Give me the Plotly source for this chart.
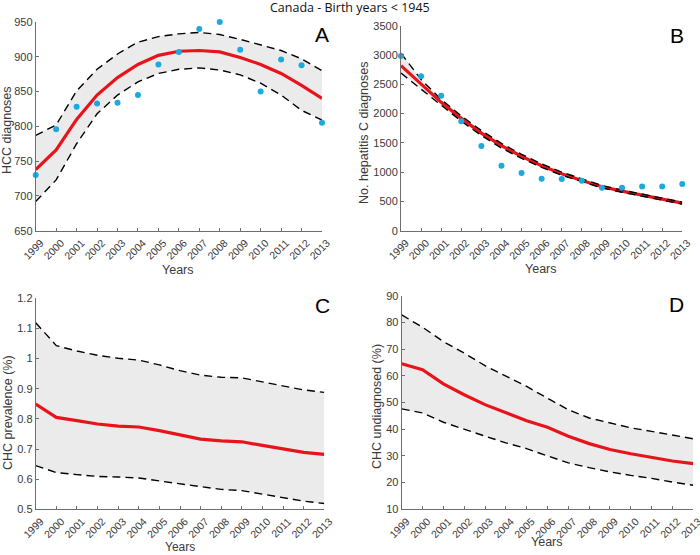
import plotly.graph_objects as go

years = list(range(1999, 2014))
year_labels = [str(y) for y in years]

# Panel A - HCC diagnoses
A_obs = [730, 796, 828, 833, 834, 845, 889, 907, 940, 950, 910, 850, 896, 888, 805]
A_mid = [738, 766, 810, 845, 870, 889, 902, 908, 909, 907, 899, 889, 876, 859, 840]
A_up = [787, 802, 851, 882, 904, 921, 929, 933, 935, 932, 925, 917, 909, 897, 880]
A_lo = [692, 723, 775, 818, 845, 864, 876, 882, 884, 881, 874, 862, 845, 823, 809]

# Panel B - No. hepatitis C diagnoses
B_obs = [2982, 2635, 2305, 1867, 1445, 1110, 985, 888, 882, 854, 734, 734, 755, 755, 797]
B_mid = [2817, 2504, 2191, 1918, 1667, 1451, 1269, 1110, 973, 858, 750, 675, 605, 545, 470]
B_up = [3030, 2580, 2240, 1960, 1710, 1490, 1305, 1140, 1000, 880, 772, 693, 622, 562, 487]
B_lo = [2690, 2420, 2135, 1870, 1625, 1412, 1235, 1080, 947, 836, 730, 657, 588, 528, 455]

# Panel C - CHC prevalence (%)
C_mid = [0.849, 0.805, 0.794, 0.783, 0.776, 0.773, 0.761, 0.747, 0.733, 0.727, 0.724, 0.712, 0.701, 0.689, 0.682]
C_up = [1.119, 1.043, 1.025, 1.011, 1.001, 0.995, 0.979, 0.960, 0.945, 0.938, 0.936, 0.922, 0.909, 0.896, 0.888]
C_lo = [0.645, 0.622, 0.615, 0.609, 0.607, 0.604, 0.594, 0.584, 0.574, 0.566, 0.562, 0.550, 0.539, 0.527, 0.519]

# Panel D - CHC undiagnosed (%)
D_mid = [64.5, 62.3, 57.0, 52.9, 49.2, 46.1, 43.2, 40.7, 37.4, 34.6, 32.4, 30.8, 29.3, 28.1, 27.1]
D_up = [82.8, 78.2, 72.8, 68.5, 63.8, 60.0, 56.0, 51.6, 47.3, 44.2, 42.4, 40.5, 39.2, 37.8, 36.4]
D_lo = [47.6, 46.1, 42.6, 39.9, 37.4, 34.9, 32.7, 30.0, 27.4, 25.6, 24.0, 22.7, 21.6, 20.2, 19.0]

W, H = 700, 555
def px(x): return x / W
def py(y): return 1 - y / H

RED = "#E8141B"
BAND = "#EBEBEB"
BLUE = "#1BA9E0"
AX = "#6e6e6e"
TXT = "#3a3a3a"
FONT = "Liberation Sans, Arial, sans-serif"

fig = go.Figure()

panels = [
    dict(n="", mid=A_mid, up=A_up, lo=A_lo, obs=A_obs),
    dict(n="2", mid=B_mid, up=B_up, lo=B_lo, obs=B_obs),
    dict(n="3", mid=C_mid, up=C_up, lo=C_lo, obs=None),
    dict(n="4", mid=D_mid, up=D_up, lo=D_lo, obs=None),
]

for p in panels:
    xa, ya = "x" + p["n"], "y" + p["n"]
    fig.add_trace(go.Scatter(x=years, y=p["lo"], xaxis=xa, yaxis=ya, mode="lines",
                             line=dict(width=0, color=BAND), hoverinfo="skip", showlegend=False))
    fig.add_trace(go.Scatter(x=years, y=p["up"], xaxis=xa, yaxis=ya, mode="lines",
                             line=dict(width=0, color=BAND), fill="tonexty", fillcolor=BAND,
                             hoverinfo="skip", showlegend=False))
    fig.add_trace(go.Scatter(x=years, y=p["mid"], xaxis=xa, yaxis=ya, mode="lines",
                             line=dict(width=3.2, color=RED), showlegend=False))
    for arr in (p["up"], p["lo"]):
        fig.add_trace(go.Scatter(x=years, y=arr, xaxis=xa, yaxis=ya, mode="lines",
                                 line=dict(width=1.4, color="black", dash="8px,5px"),
                                 showlegend=False))
    if p["obs"] is not None:
        fig.add_trace(go.Scatter(x=years, y=p["obs"], xaxis=xa, yaxis=ya, mode="markers",
                                 marker=dict(symbol="circle", size=6, color=BLUE),
                                 cliponaxis=False, showlegend=False))

common_x = dict(range=[1999, 2013], tickmode="array", tickvals=years, ticktext=year_labels,
                tickangle=-45, ticks="inside", ticklen=3, tickcolor=AX, showline=True,
                linecolor=AX, linewidth=1, showgrid=False, zeroline=False, automargin=False,
                ticklabelshift=5, ticklabelstandoff=1, ticklabeloverflow="allow",
                tickfont=dict(family=FONT, size=10.5, color=TXT))
common_y = dict(ticks="inside", ticklen=3, tickcolor=AX, showline=True, linecolor=AX,
                linewidth=1, showgrid=False, zeroline=False, automargin=False,
                tickfont=dict(family=FONT, size=11, color=TXT))

fig.update_layout(
    template="none",
    width=W, height=H, margin=dict(l=0, r=0, t=0, b=0, pad=0), autosize=False,
    paper_bgcolor="white", plot_bgcolor="white",
    xaxis=dict(domain=[px(35.7), px(322)], anchor="y", **common_x),
    yaxis=dict(domain=[py(230.7), py(22)], anchor="x", range=[650, 950], dtick=50, **common_y),
    xaxis2=dict(domain=[px(401), px(682.3)], anchor="y2", **common_x),
    yaxis2=dict(domain=[py(230.7), py(25.7)], anchor="x2", range=[0, 3500], dtick=500, **common_y),
    xaxis3=dict(domain=[px(35.7), px(324.3)], anchor="y3", **common_x),
    yaxis3=dict(domain=[py(509.3), py(298.3)], anchor="x3", range=[0.5, 1.2],
                tickvals=[0.5, 0.6, 0.7, 0.8, 0.9, 1.0, 1.1, 1.2],
                ticktext=["0.5", "0.6", "0.7", "0.8", "0.9", "1", "1.1", "1.2"], **common_y),
    xaxis4=dict(domain=[px(401.7), px(693.3)], anchor="y4", **common_x),
    yaxis4=dict(domain=[py(509.3), py(295.7)], anchor="x4", range=[10, 90], dtick=10, **common_y),
)

ann = []
def add_text(text, x, y, size, angle=0, color=TXT, family=FONT):
    ann.append(dict(text=text, x=px(x), y=py(y), xref="paper", yref="paper",
                    showarrow=False, textangle=angle, xanchor="center", yanchor="middle",
                    font=dict(family=family, size=size, color=color)))

add_text("Canada - Birth years < 1945", 350, 8, 12.5, color="#111", family="Open Sans, DejaVu Sans, sans-serif")
for letter, (lx, ly) in zip("ABCD", [(322, 34), (677, 35), (322, 305), (676, 304)]):
    add_text(letter, lx, ly, 21, color="black")
add_text("Years", 178, 270, 12.5)
add_text("Years", 541, 269, 12.5)
add_text("Years", 180, 547, 12)
add_text("Years", 547, 542, 12.5)
add_text("HCC diagnoses", 7, 130, 12.5, angle=-90)
add_text("No. hepatitis C diagnoses", 364, 133, 12.5, angle=-90)
add_text("CHC prevalence (%)", 8, 413, 12.5, angle=-90)
add_text("CHC undiagnosed (%)", 377, 407, 12.5, angle=-90)
fig.update_layout(annotations=ann)

fig.write_html("out.html", config={"displayModeBar": False},
               post_script="document.body.style.margin='0px';document.body.style.overflow='hidden';")
